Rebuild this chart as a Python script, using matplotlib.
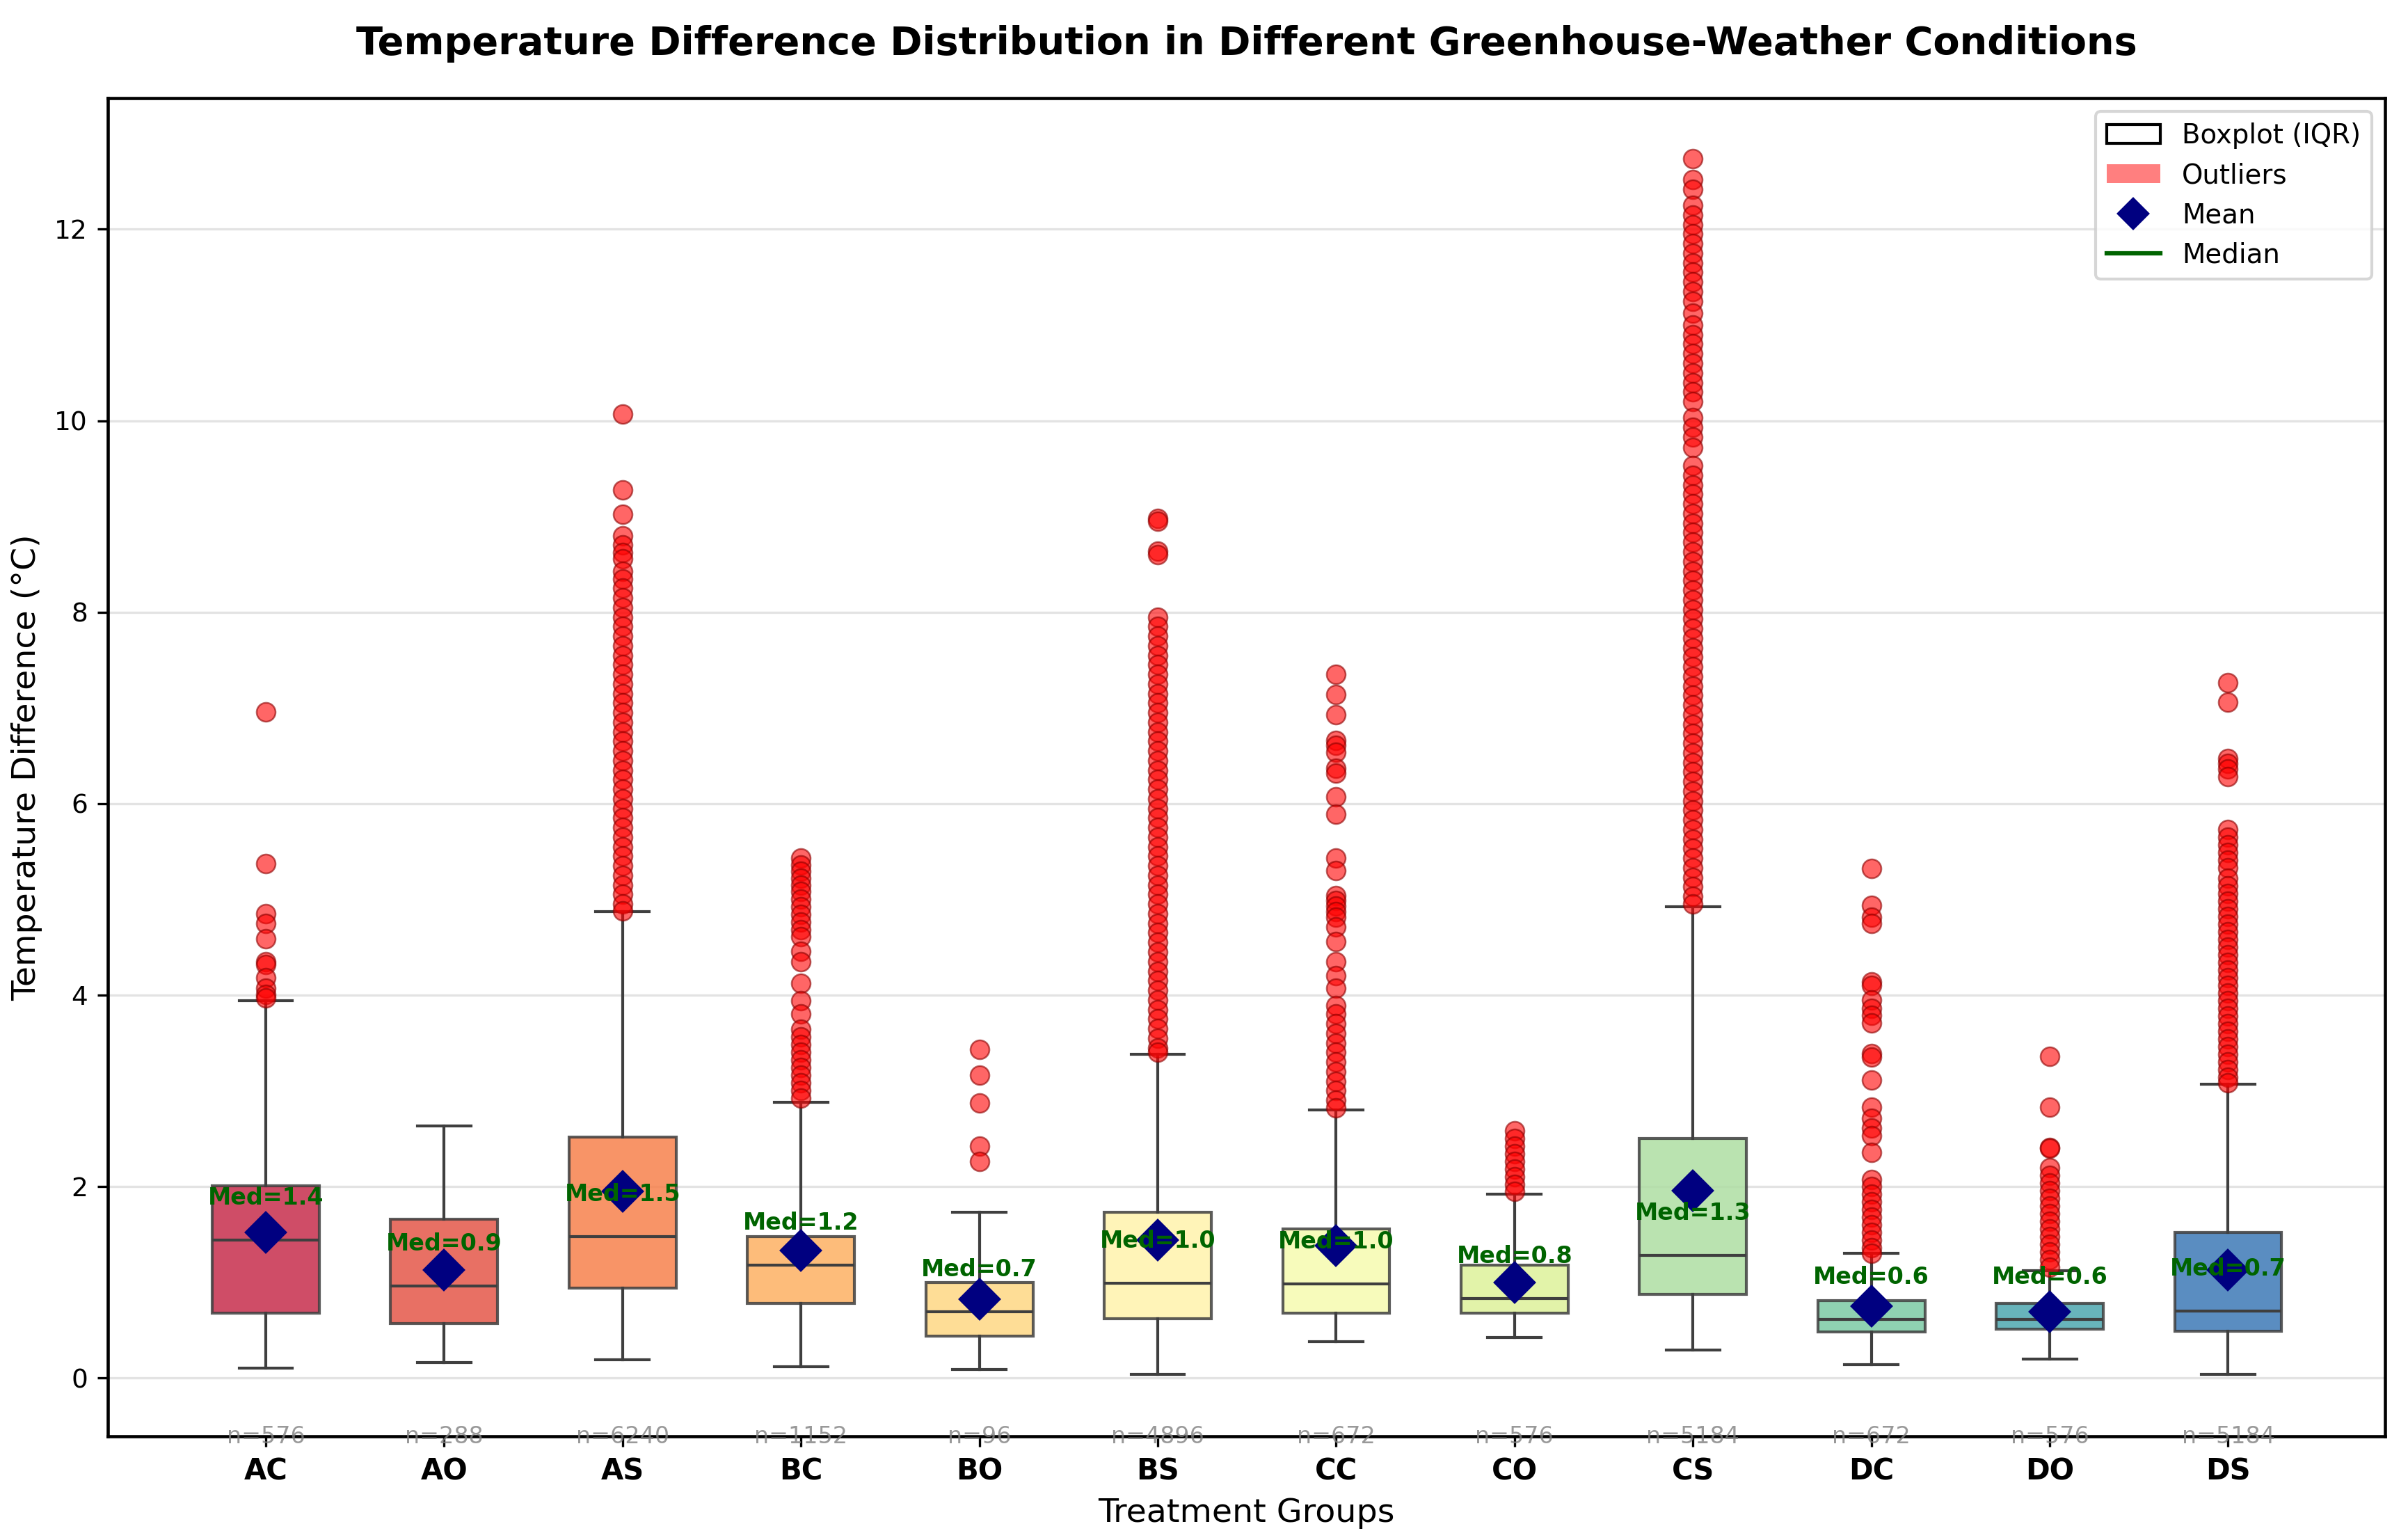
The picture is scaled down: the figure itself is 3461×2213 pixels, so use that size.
import matplotlib
matplotlib.use('Agg')
import matplotlib.pyplot as plt
import numpy as np
from matplotlib.patches import Patch
from matplotlib.lines import Line2D

# grupos e estatisticas
groups = ['AC', 'AO', 'AS', 'BC', 'BO', 'BS', 'CC', 'CO', 'CS', 'DC', 'DO', 'DS']
n_obs = [576, 288, 6240, 1152, 96, 4896, 672, 576, 5184, 672, 576, 5184]
q1 = [0.68, 0.57, 0.94, 0.78, 0.44, 0.62, 0.68, 0.68, 0.87, 0.48, 0.51, 0.49]
medians = [1.44, 0.96, 1.48, 1.18, 0.69, 0.99, 0.98, 0.83, 1.28, 0.61, 0.61, 0.70]
q3 = [2.01, 1.66, 2.52, 1.48, 1.00, 1.73, 1.56, 1.18, 2.50, 0.81, 0.78, 1.52]
whis_low = [0.10, 0.16, 0.19, 0.12, 0.09, 0.04, 0.38, 0.42, 0.29, 0.14, 0.20, 0.04]
whis_high = [3.94, 2.63, 4.87, 2.88, 1.73, 3.38, 2.80, 1.92, 4.92, 1.30, 1.12, 3.07]
means = [1.52, 1.13, 1.95, 1.33, 0.82, 1.44, 1.38, 1.00, 1.96, 0.75, 0.69, 1.13]
med_text = ['1.4', '0.9', '1.5', '1.2', '0.7', '1.0', '1.0', '0.8', '1.3', '0.6', '0.6', '0.7']

out_AC = [6.96, 5.37, 4.85, 4.75, 4.59, 4.35, 4.32, 4.18, 4.07, 4.01, 3.97]
out_AO = []
out_AS = [10.07, 9.28, 9.02, 8.80, 8.70, 8.62, 8.56, 8.43, 8.35, 8.25, 8.15, 8.05,
          7.95, 7.85, 7.75, 7.65, 7.55, 7.45, 7.35, 7.25, 7.15, 7.05, 6.95, 6.85,
          6.75, 6.65, 6.55, 6.45, 6.35, 6.25, 6.15, 6.05, 5.95, 5.85, 5.75, 5.65,
          5.55, 5.45, 5.35, 5.25, 5.15, 5.05, 4.95, 4.88]
out_BC = [5.43, 5.36, 5.29, 5.22, 5.15, 5.08, 5.00, 4.92, 4.84, 4.76, 4.68, 4.61,
          4.46, 4.35, 4.12, 3.94, 3.80, 3.64, 3.56, 3.48, 3.40, 3.32, 3.24, 3.16,
          3.08, 3.00, 2.92]
out_BO = [3.43, 3.16, 2.87, 2.42, 2.26]
out_BS = [8.98, 8.95, 8.64, 8.60, 7.95, 7.85, 7.75, 7.65, 7.55, 7.45, 7.35, 7.25,
          7.15, 7.05, 6.95, 6.85, 6.75, 6.65, 6.55, 6.45, 6.35, 6.25, 6.15, 6.05,
          5.95, 5.85, 5.75, 5.65, 5.55, 5.45, 5.35, 5.25, 5.15, 5.05, 4.95, 4.85,
          4.75, 4.65, 4.55, 4.45, 4.35, 4.25, 4.15, 4.05, 3.95, 3.85, 3.75, 3.65,
          3.55, 3.45, 3.40]
out_CC = [7.35, 7.14, 6.93, 6.66, 6.61, 6.54, 6.37, 6.32, 6.07, 5.89, 5.43, 5.30,
          5.04, 4.99, 4.93, 4.87, 4.81, 4.71, 4.56, 4.35, 4.20, 4.07, 3.89, 3.80,
          3.70, 3.60, 3.50, 3.40, 3.30, 3.20, 3.10, 3.00, 2.90, 2.82]
out_CO = [2.58, 2.50, 2.42, 2.34, 2.26, 2.18, 2.10, 2.02, 1.95]
out_CS = [12.74, 12.52, 12.42, 12.25, 12.15, 12.05, 11.95, 11.85, 11.75, 11.65,
          11.55, 11.45, 11.35, 11.25, 11.12, 11.00, 10.90, 10.80, 10.70, 10.60,
          10.50, 10.40, 10.30, 10.20, 10.03, 9.93, 9.83, 9.72, 9.53, 9.43, 9.33,
          9.23, 9.13, 9.03, 8.93, 8.83, 8.73, 8.63, 8.53, 8.43, 8.33, 8.23, 8.13,
          8.03, 7.93, 7.83, 7.73, 7.63, 7.53, 7.43, 7.33, 7.23, 7.13, 7.03, 6.93,
          6.83, 6.73, 6.63, 6.53, 6.43, 6.33, 6.23, 6.13, 6.03, 5.93, 5.83, 5.73,
          5.63, 5.53, 5.43, 5.33, 5.23, 5.13, 5.03, 4.95]
out_DC = [5.32, 4.94, 4.81, 4.75, 4.14, 4.10, 3.95, 3.86, 3.79, 3.71, 3.39, 3.35,
          3.11, 2.83, 2.71, 2.61, 2.53, 2.36, 2.07, 2.00, 1.92, 1.84, 1.76, 1.68,
          1.60, 1.52, 1.44, 1.36, 1.30]
out_DO = [3.36, 2.83, 2.41, 2.40, 2.20, 2.12, 2.04, 1.96, 1.88, 1.80, 1.72, 1.64,
          1.56, 1.48, 1.40, 1.32, 1.24, 1.16]
out_DS = [7.26, 7.06, 6.47, 6.42, 6.36, 6.28, 5.73, 5.65, 5.57, 5.49, 5.41, 5.33,
          5.22, 5.14, 5.06, 4.98, 4.90, 4.82, 4.74, 4.66, 4.58, 4.50, 4.42, 4.34,
          4.26, 4.18, 4.10, 4.02, 3.94, 3.86, 3.78, 3.70, 3.62, 3.54, 3.46, 3.38,
          3.30, 3.22, 3.14, 3.08]
outliers = [out_AC, out_AO, out_AS, out_BC, out_BO, out_BS,
            out_CC, out_CO, out_CS, out_DC, out_DO, out_DS]

# montando as estatisticas para o bxp
stats = []
for i, g in enumerate(groups):
    stats.append(dict(label=g, q1=q1[i], med=medians[i], q3=q3[i],
                      whislo=whis_low[i], whishi=whis_high[i],
                      mean=means[i], fliers=np.array(outliers[i])))

colors = plt.cm.Spectral(np.linspace(0, 1, len(groups) + 2)[1:-1])
pos = np.arange(len(groups))

fig = plt.figure(figsize=(3461 / 300, 2213 / 300), dpi=300)
ax = fig.add_axes([0.0448, 0.0673, 0.9457, 0.869])

line_c = '#3f3f3f'
bp = ax.bxp(stats, positions=pos, widths=0.6, capwidths=0.3, patch_artist=True,
            showmeans=True, showfliers=True,
            boxprops=dict(edgecolor=line_c, linewidth=1.0),
            medianprops=dict(color=line_c, linewidth=1.0),
            whiskerprops=dict(color=line_c, linewidth=1.0),
            capprops=dict(color=line_c, linewidth=1.0),
            flierprops=dict(marker='o', markerfacecolor='red', markeredgecolor='darkred',
                            markersize=6.5, alpha=0.6, markeredgewidth=0.6),
            meanprops=dict(marker='D', markerfacecolor='navy', markeredgecolor='navy',
                           markersize=9.5))
for patch, c in zip(bp['boxes'], colors):
    patch.set_facecolor(c)
    patch.set_alpha(0.85)
    patch.set_edgecolor(line_c)
for m in bp['means']:
    m.set_zorder(5)

ax.set_xlim(-0.885, 11.88)
ax.set_ylim(-0.61, 13.37)

# rotulos da mediana e do n
for i in range(len(groups)):
    ax.text(pos[i], medians[i] + 0.44, f'Med={med_text[i]}', ha='center', va='center',
            fontsize=8, fontweight='bold', color='darkgreen', zorder=6)
    ax.text(pos[i], -0.61, f'n={n_obs[i]}', ha='center', va='center',
            fontsize=8, color='gray', alpha=0.8)

ax.set_xticks(pos)
ax.set_xticklabels(groups, fontweight='bold', fontsize=10)
ax.tick_params(axis='y', labelsize=9)
ax.set_xlabel('Treatment Groups', fontsize=11.4)
ax.set_ylabel('Temperature Difference (°C)', fontsize=11.4)
ax.set_title('Temperature Difference Distribution in Different Greenhouse-Weather Conditions',
             fontsize=13.4, fontweight='bold', pad=15)
ax.yaxis.grid(True, color='#dddddd', linewidth=0.8, alpha=0.8)
ax.set_axisbelow(True)
for s in ax.spines.values():
    s.set_linewidth(1.1)

handles = [Patch(facecolor='white', edgecolor='black', label='Boxplot (IQR)'),
           Patch(facecolor='red', alpha=0.5, label='Outliers'),
           Line2D([], [], marker='D', color='navy', linestyle='None', markersize=7, label='Mean'),
           Line2D([], [], color='darkgreen', linewidth=1.5, label='Median')]
ax.legend(handles=handles, loc='upper right', fontsize=9.3)

fig.savefig('out.png', dpi=300)
